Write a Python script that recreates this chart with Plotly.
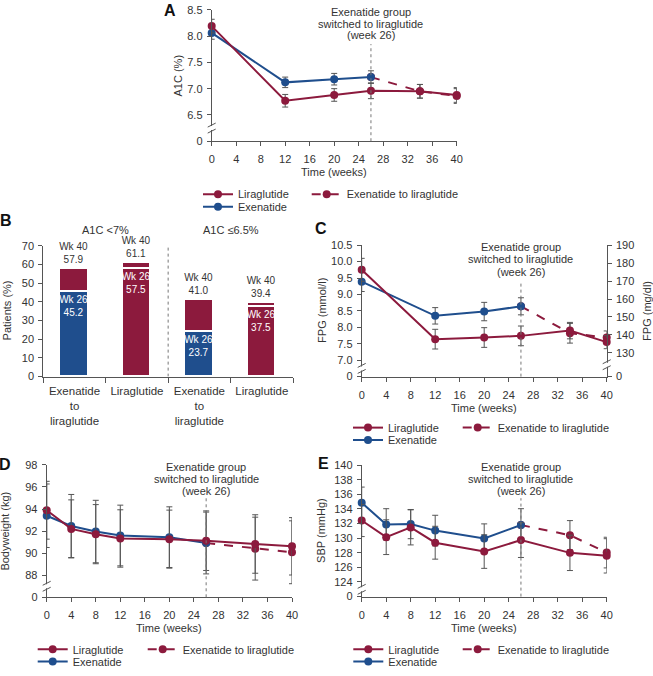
import plotly.graph_objects as go

RED = "#8c1a3d"
BLUE = "#1f4e8d"
GREY = "#555555"
TXT = "#333333"
FONT = "Liberation Sans, Arial, sans-serif"

W, H = 653, 676

# ---- Panel A: A1C (%) ----
a_weeks_lira = [0, 12, 20, 26, 34, 40]
a_lira = [8.19, 6.77, 6.88, 6.96, 6.95, 6.88]
a_lira_err = [0.13, 0.12, 0.12, 0.15, 0.13, 0.14]
a_weeks_exe = [0, 12, 20, 26]
a_exe = [8.06, 7.12, 7.18, 7.22]
a_exe_err = [0.12, 0.10, 0.11, 0.12]
a_weeks_switch = [26, 34, 40]
a_switch = [7.22, 6.95, 6.86]
a_switch_err = [None, 0.13, 0.14]

# ---- Panel B: patients reaching target (%) ----
b_labels = ["Exenatide<br>to<br>liraglutide", "Liraglutide",
            "Exenatide<br>to<br>liraglutide", "Liraglutide"]
b_groups = ["A1C <7%", "A1C \u22646.5%"]
b_wk26 = [45.2, 57.5, 23.7, 37.5]
b_wk40 = [57.9, 61.1, 41.0, 39.4]
b_is_exe = [True, False, True, False]

# ---- Panel C: FPG (mmol/l) ----
c_weeks_lira = [0, 12, 20, 26, 34, 40]
c_lira = [9.75, 7.64, 7.69, 7.74, 7.90, 7.55]
c_lira_err = [0.35, 0.30, 0.30, 0.30, 0.25, 0.20]
c_weeks_exe = [0, 12, 20, 26]
c_exe = [9.39, 8.35, 8.48, 8.64]
c_exe_err = [0.30, 0.25, 0.28, 0.26]
c_weeks_switch = [26, 34, 40]
c_switch = [8.64, 7.82, 7.69]
c_switch_err = [None, 0.30, 0.20]

# ---- Panel D: bodyweight (kg) ----
d_weeks_lira = [0, 4, 8, 12, 20, 26, 34, 40]
d_lira = [93.89, 92.20, 91.72, 91.33, 91.27, 91.13, 90.83, 90.62]
d_lira_err = [2.62, 2.63, 2.68, 2.60, 2.63, 2.70, 2.65, 2.60]
d_weeks_exe = [0, 4, 8, 12, 20, 26]
d_exe = [93.39, 92.46, 91.96, 91.60, 91.45, 90.92]
d_exe_err = [2.88, 2.86, 2.83, 2.75, 2.75, 2.80]
d_weeks_switch = [26, 34, 40]
d_switch = [90.92, 90.41, 90.08]
d_switch_err = [None, 2.85, 2.85]

# ---- Panel E: SBP (mmHg) ----
e_weeks_lira = [0, 4, 8, 12, 20, 26, 34, 40]
e_lira = [132.42, 130.14, 131.48, 129.38, 128.17, 129.74, 127.99, 127.58]
e_lira_err = [2.2, 2.38, 2.4, 2.25, 2.3, 2.38, 2.42, 2.35]
e_weeks_exe = [0, 4, 8, 12, 20, 26]
e_exe = [134.85, 131.89, 131.93, 131.04, 129.96, 131.80]
e_exe_err = [2.15, 2.15, 2.0, 2.1, 2.0, 2.24]
e_weeks_switch = [26, 34, 40]
e_switch = [131.80, 130.41, 128.03]
e_switch_err = [None, 2.0, 2.1]

switch_note = ["Exenatide group", "switched to liraglutide", "(week 26)"]


def fx(p):
    return p / W


def fy(p):
    return 1 - p / H


fig = go.Figure()


def add_series(xs, ys, errs, color, dash, name, xa, ya, legend):
    fig.add_trace(go.Scatter(
        x=xs, y=ys, mode="lines+markers", name=name,
        line=dict(color=color, width=2, dash=dash),
        marker=dict(color=color, size=8),
        error_y=dict(type="data", array=errs, color=GREY, thickness=1, width=3),
        xaxis=xa, yaxis=ya, legend=legend, cliponaxis=False,
        hoverinfo="x+y"))


def add_panel(xa, ya, legs, weeks_l, lira, lira_err, weeks_e, exe, exe_err,
              weeks_s, switch, switch_err):
    add_series(weeks_s, switch, switch_err, RED, "dash",
               "Exenatide to liraglutide", xa, ya, legs[2])
    add_series(weeks_e, exe, exe_err, BLUE, "solid", "Exenatide", xa, ya, legs[1])
    add_series(weeks_l, lira, lira_err, RED, "solid", "Liraglutide", xa, ya, legs[0])


add_panel("x", "y", ["legend", "legend2", "legend3"], a_weeks_lira, a_lira, a_lira_err,
          a_weeks_exe, a_exe, a_exe_err, a_weeks_switch, a_switch, a_switch_err)
add_panel("x3", "y3", ["legend4", "legend5", "legend6"], c_weeks_lira, c_lira, c_lira_err,
          c_weeks_exe, c_exe, c_exe_err, c_weeks_switch, c_switch, c_switch_err)
add_panel("x4", "y4", ["legend7", "legend8", "legend9"], d_weeks_lira, d_lira, d_lira_err,
          d_weeks_exe, d_exe, d_exe_err, d_weeks_switch, d_switch, d_switch_err)
add_panel("x5", "y5", ["legend10", "legend11", "legend12"], e_weeks_lira, e_lira, e_lira_err,
          e_weeks_exe, e_exe, e_exe_err, e_weeks_switch, e_switch, e_switch_err)

# bars for panel B
b_x = list(range(len(b_labels)))
fig.add_trace(go.Bar(
    x=b_x, y=b_wk26, width=0.44,
    marker=dict(color=[BLUE if e else RED for e in b_is_exe],
                line=dict(color="white", width=1.5)),
    text=["Wk 26<br>%.1f" % v for v in b_wk26],
    textposition="inside", insidetextanchor="end", textangle=0,
    constraintext="none",
    textfont=dict(color="white", size=10),
    xaxis="x2", yaxis="y2", showlegend=False))
fig.add_trace(go.Bar(
    x=b_x, y=[t - b for t, b in zip(b_wk40, b_wk26)], width=0.44,
    marker=dict(color=RED, line=dict(color="white", width=1.5)),
    text=["Wk 40<br>%.1f" % v for v in b_wk40],
    textposition="outside", textangle=0, constraintext="none",
    textfont=dict(color=TXT, size=10),
    cliponaxis=False, xaxis="x2", yaxis="y2", showlegend=False))

axis_style = dict(showline=True, linecolor=GREY, linewidth=1, ticks="outside",
                  ticklen=4, tickcolor=GREY, showgrid=False, zeroline=False,
                  tickfont=dict(size=11, color=TXT), automargin=False)


def time_axis(dom, anchor):
    return dict(axis_style, domain=[fx(dom[0]), fx(dom[1])], anchor=anchor,
                range=[0, 40], tickvals=list(range(0, 41, 4)),
                ticklabelstandoff=4)


def broken_axis(dom, anchor, lo, ticks, labels):
    return dict(axis_style, domain=[fy(dom[0]), fy(dom[1])], anchor=anchor,
                range=[lo, ticks[-1]], tickvals=[lo] + ticks,
                ticktext=["0"] + labels, ticklabelstandoff=2)


a_ticks = [6.5, 7.0, 7.5, 8.0, 8.5]
c_ticks = [7.0, 7.5, 8.0, 8.5, 9.0, 9.5, 10.0, 10.5]
c_mgdl = [130, 140, 150, 160, 170, 180, 190]
d_ticks = [88, 90, 92, 94, 96, 98]
e_ticks = list(range(124, 141, 2))

fig.update_layout(
    xaxis=time_axis((211.7, 456.7), "y"),
    yaxis=broken_axis((144, 10), "x", 6.0, a_ticks, ["%.1f" % v for v in a_ticks]),
    xaxis2=dict(axis_style, domain=[fx(43.3), fx(293)], anchor="y2",
                range=[-0.5, 3.5], tickvals=b_x, ticktext=b_labels, ticks="",
                tickfont=dict(size=11.5, color=TXT), ticklabelstandoff=4,
                minor=dict(tickvals=[-0.5, 0.5, 1.5, 2.5, 3.5], ticks="outside",
                           ticklen=5, tickcolor=GREY)),
    yaxis2=dict(axis_style, domain=[fy(384), fy(250.7)], anchor="x2",
                range=[0, 70], dtick=10, ticklabelstandoff=2),
    xaxis3=time_axis((361.7, 606.7), "y3"),
    yaxis3=broken_axis((384, 250), "x3", 6.5, c_ticks, ["%.1f" % v for v in c_ticks]),
    yaxis6=dict(axis_style, overlaying="y3", anchor="x3", side="right",
                range=[116.7, 190.1], tickvals=[116.7] + c_mgdl,
                ticktext=["0"] + [str(v) for v in c_mgdl], ticklabelstandoff=2),
    xaxis4=time_axis((46.7, 292), "y4"),
    yaxis4=broken_axis((609, 474), "x4", 86, d_ticks, [str(v) for v in d_ticks]),
    xaxis5=time_axis((361.7, 606.7), "y5"),
    yaxis5=broken_axis((608.3, 474.3), "x5", 122, e_ticks, [str(v) for v in e_ticks]),
)


# legends: one legend per entry, so the rows sit where they do in the figure
def leg(x_px, y_px):
    return dict(x=fx(x_px), y=fy(y_px + 3), xanchor="left", yanchor="middle",
                orientation="h", bgcolor="rgba(0,0,0,0)", borderwidth=0,
                font=dict(size=11, color=TXT, family=FONT), itemwidth=30)


fig.update_layout(
    legend=leg(198, 195), legend2=leg(198, 207.7), legend3=leg(306.7, 195),
    legend4=leg(348, 433), legend5=leg(348, 445.7), legend6=leg(457.7, 433),
    legend7=leg(32.7, 659), legend8=leg(32.7, 671.7), legend9=leg(142.7, 659),
    legend10=leg(348.3, 659), legend11=leg(348.3, 671.7), legend12=leg(457.7, 659),
)


def note(text, x, y, xref="paper", yref="paper", yanchor="middle", **kw):
    fig.add_annotation(text=text, x=x, y=y, xref=xref, yref=yref, showarrow=False,
                       xanchor="center", yanchor=yanchor, **kw)


# switch notes and dotted week-26 lines
for xa, ya_, tops, line_top in [("x", "y", (12, 24, 36), 0.739),
                                ("x3", "y3", (252, 264.5, 277), 0.716),
                                ("x4", "y4", (476, 488.7, 501), 0.763),
                                ("x5", "y5", (476, 488.7, 501), 0.749)]:
    for txt, yp in zip(switch_note, tops):
        note(txt, 26, fy(yp), xref=xa, font=dict(size=11, color=TXT))
    fig.add_shape(type="line", xref=xa, x0=26, x1=26,
                  yref=ya_ + " domain", y0=0, y1=line_top,
                  line=dict(color="#777777", width=1, dash="dot"))

# axis titles
for txt, xp, yp in [("Time (weeks)", 334.2, 175), ("Time (weeks)", 484.2, 416),
                    ("Time (weeks)", 169.3, 640), ("Time (weeks)", 484.2, 640)]:
    note(txt, fx(xp), fy(yp), font=dict(size=11, color=TXT))
for txt, xp, yp in [("A1C (%)", 178, 77), ("Patients (%)", 6.5, 317),
                    ("FPG (mmol/l)", 322, 317), ("FPG (mg/dl)", 647, 317),
                    ("Bodyweight (kg)", 5.5, 541.5), ("SBP (mmHg)", 321, 541.3)]:
    note(txt, fx(xp), fy(yp), textangle=-90, font=dict(size=11, color=TXT))

# B divider and group titles
fig.add_shape(type="line", xref="x2", x0=1.5, x1=1.5, yref="y2", y0=0, y1=70,
              line=dict(color="#777777", width=1, dash="dot"))
for gx, gt in zip([0.5, 2.5], b_groups):
    note(gt, gx, fy(234), xref="x2", font=dict(size=11, color=TXT))


# axis break marks
def add_break(xa, ya_, yval, side=0):
    common = dict(xref=xa + " domain", yref=ya_, xsizemode="pixel",
                  ysizemode="pixel", xanchor=side, yanchor=yval)
    fig.add_shape(type="line", x0=0, x1=0, y0=-2, y1=2,
                  line=dict(color="white", width=3), **common)
    fig.add_shape(type="line", x0=-4, x1=4, y0=-5, y1=-1,
                  line=dict(color=GREY, width=1), **common)
    fig.add_shape(type="line", x0=-4, x1=4, y0=1, y1=5,
                  line=dict(color=GREY, width=1), **common)


add_break("x", "y", 6.25)
add_break("x3", "y3", 6.75)
add_break("x3", "y6", 123.35, side=1)
add_break("x4", "y4", 87)
add_break("x5", "y5", 123)

# panel letters
note("<b>A</b>", fx(170), 1, yanchor="top", font=dict(size=16, color="#111111"))
for letter, xp, yp in [("B", 6, 225), ("C", 321, 233), ("D", 5, 474), ("E", 323, 473)]:
    note("<b>%s</b>" % letter, fx(xp), fy(yp), font=dict(size=16, color="#111111"))

fig.update_layout(
    template="none",
    width=W, height=H,
    margin=dict(l=0, r=0, t=0, b=0),
    paper_bgcolor="white", plot_bgcolor="rgba(0,0,0,0)",
    font=dict(family=FONT, size=11, color=TXT),
    barmode="stack", bargap=0,
    showlegend=True,
    hovermode="closest",
)

fig.write_html("out.html", config={"displayModeBar": False},
               post_script="document.body.style.margin = '0';")
